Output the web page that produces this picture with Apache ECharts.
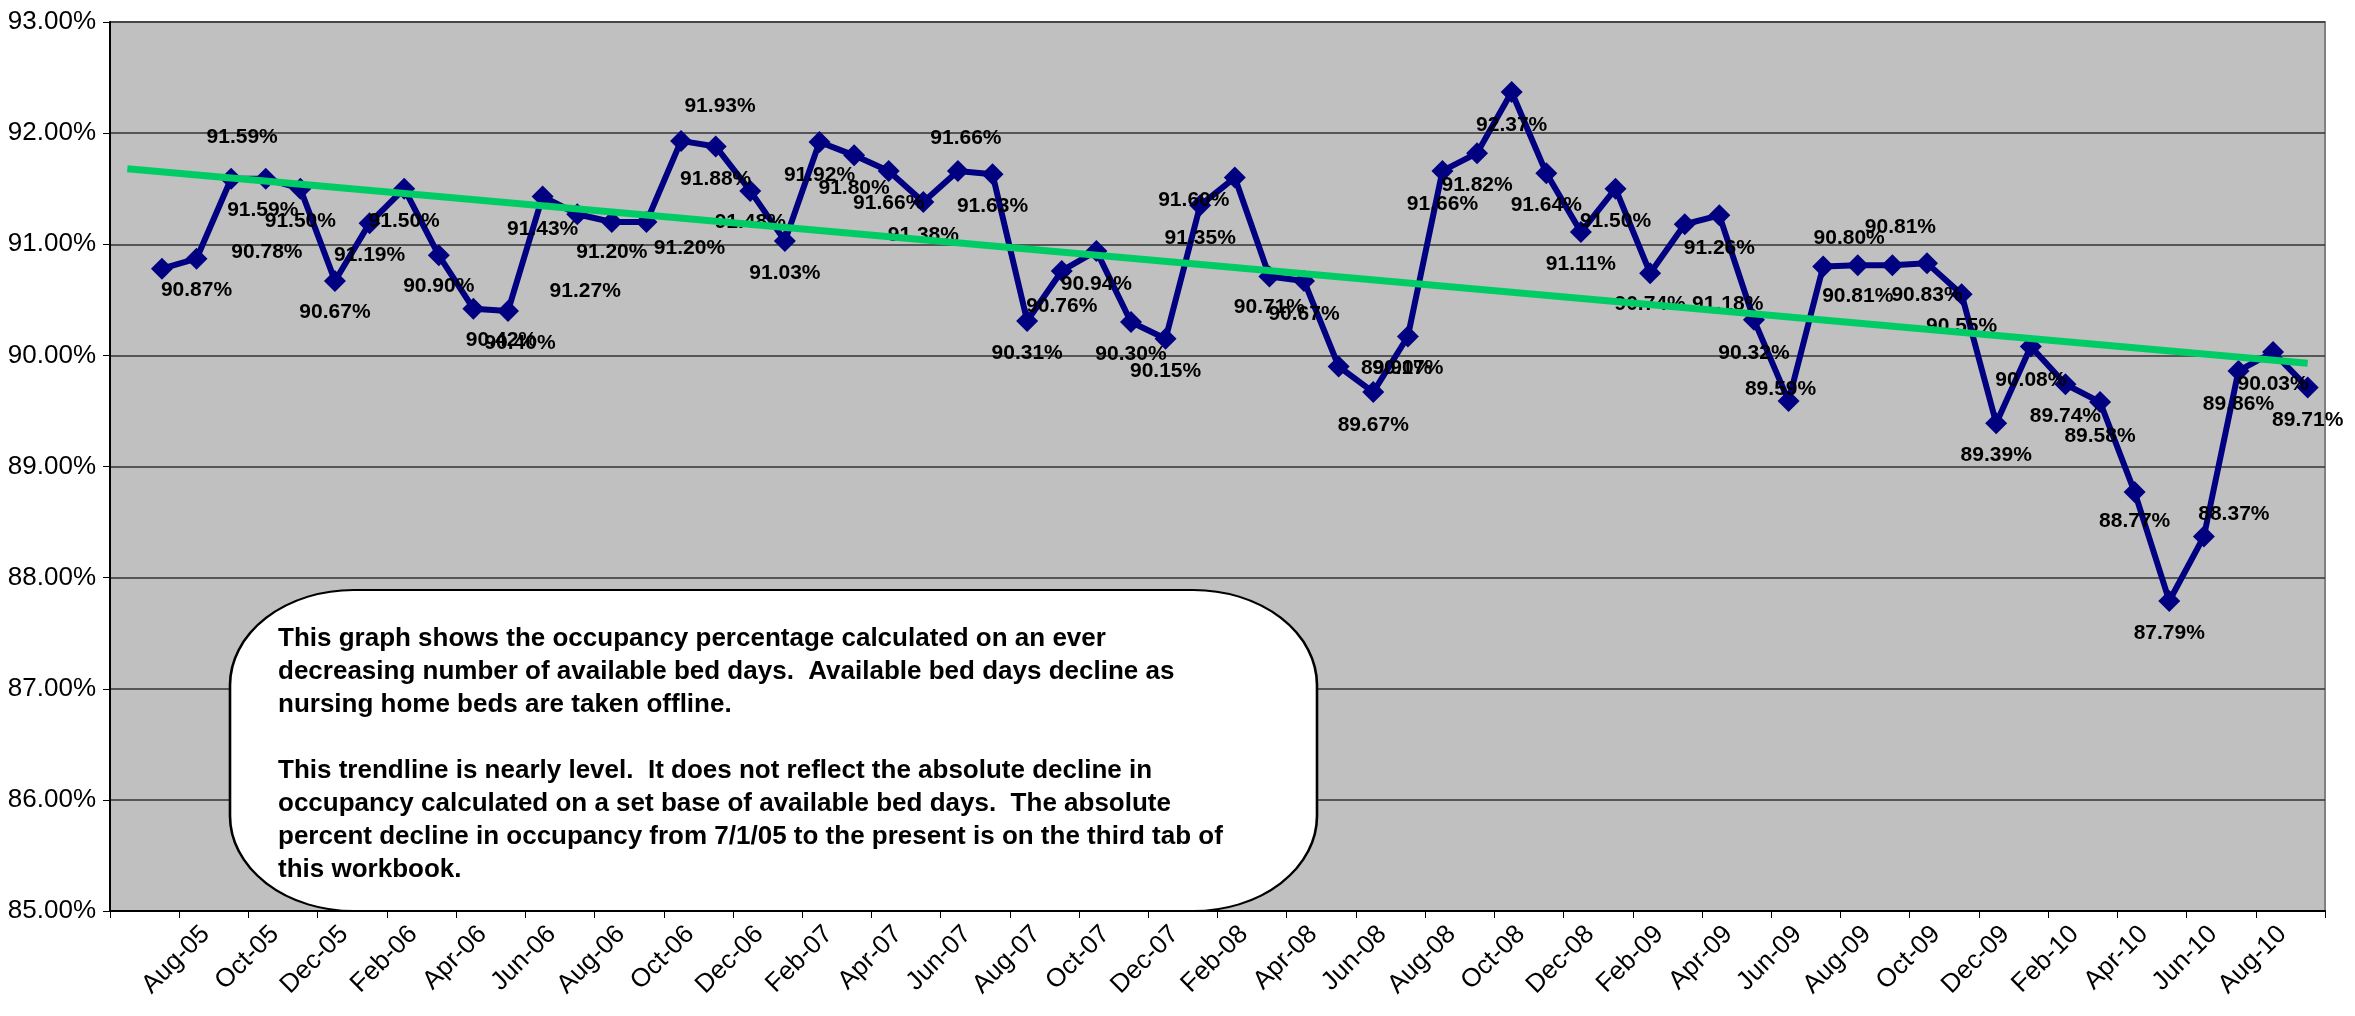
<!DOCTYPE html>
<html><head><meta charset="utf-8">
<script src="https://cdn.jsdelivr.net/npm/echarts@6/dist/echarts.min.js"></script>
<style>html,body{margin:0;padding:0;background:#fff}#c{width:2355px;height:1016px}</style>
</head><body><div id="c"></div>
<script>
// Categories: one blank slot, then Jul-05 .. Sep-10
const months = ['',
  'Jul-05','Aug-05','Sep-05','Oct-05','Nov-05','Dec-05',
  'Jan-06','Feb-06','Mar-06','Apr-06','May-06','Jun-06','Jul-06','Aug-06','Sep-06','Oct-06','Nov-06','Dec-06',
  'Jan-07','Feb-07','Mar-07','Apr-07','May-07','Jun-07','Jul-07','Aug-07','Sep-07','Oct-07','Nov-07','Dec-07',
  'Jan-08','Feb-08','Mar-08','Apr-08','May-08','Jun-08','Jul-08','Aug-08','Sep-08','Oct-08','Nov-08','Dec-08',
  'Jan-09','Feb-09','Mar-09','Apr-09','May-09','Jun-09','Jul-09','Aug-09','Sep-09','Oct-09','Nov-09','Dec-09',
  'Jan-10','Feb-10','Mar-10','Apr-10','May-10','Jun-10','Jul-10','Aug-10','Sep-10'];

const occupancy = [null,
  90.78, 90.87, 91.59, 91.59, 91.50, 90.67,
  91.19, 91.50, 90.90, 90.42, 90.40, 91.43, 91.27, 91.20, 91.20, 91.93, 91.88, 91.48,
  91.03, 91.92, 91.80, 91.66, 91.38, 91.66, 91.63, 90.31, 90.76, 90.94, 90.30, 90.15,
  91.35, 91.60, 90.71, 90.67, 89.90, 89.67, 90.17, 91.66, 91.82, 92.37, 91.64, 91.11,
  91.50, 90.74, 91.18, 91.26, 90.32, 89.59, 90.80, 90.81, 90.81, 90.83, 90.55, 89.39,
  90.08, 89.74, 89.58, 88.77, 87.79, 88.37, 89.86, 90.03, 89.71];

// Linear trendline end values (first and last category)
const trendStart = 91.68;
const trendEnd = 89.93;

const yTicks = [85, 86, 87, 88, 89, 90, 91, 92, 93];

// Label nudges [dx, dy] (layout only)
const labelNudge = [null,
  [105,-16],[0,32],[11,-41],[-3,32],[0,33],[0,31],
  [0,32],[0,33],[0,31],[28,32],[12,32],[0,33],[8,77],[0,30],[43,26],[39,-35],[0,33],[0,31],
  [0,32],[0,33],[0,33],[0,32],[0,33],[8,-33],[0,32],[0,32],[0,35],[0,33],[0,32],[0,32],
  [0,33],[-41,23],[0,31],[0,33],[58,2],[0,33],[0,32],[0,33],[0,32],[0,33],[0,32],[0,32],
  [0,33],[0,31],[43,80],[0,33],[0,33],[-8,-12],[26,-28],[0,31],[8,-38],[0,32],[0,32],[0,32],
  [0,34],[0,32],[0,34],[0,29],[0,32],[30,-22],[0,33],[0,32],[0,33]];

const noteText = [
  'This graph shows the occupancy percentage calculated on an ever',
  'decreasing number of available bed days.  Available bed days decline as',
  'nursing home beds are taken offline.',
  '',
  'This trendline is nearly level.  It does not reflect the absolute decline in',
  'occupancy calculated on a set base of available bed days.  The absolute',
  'percent decline in occupancy from 7/1/05 to the present is on the third tab of',
  'this workbook.'
].join('\n');

const chart = echarts.init(document.getElementById('c'), null, {renderer: 'canvas'});
const FONT = 'Liberation Sans, Arial, sans-serif';

const lineData = occupancy.map((v, i) => v == null ? null : ({
  value: v,
  label: { offset: labelNudge[i] }
}));

// Callout box: rounded rect stretched horizontally for elliptical corners
const boxStretch = 1.3;

chart.setOption({
  backgroundColor: '#ffffff',
  animation: false,
  grid: {
    left: 110, right: 30, top: 22, bottom: 105,
    show: true, backgroundColor: '#C0C0C0', borderColor: '#808080', borderWidth: 2
  },
  xAxis: {
    type: 'category',
    data: months,
    boundaryGap: true,
    axisLine: { lineStyle: { color: '#000', width: 2 } },
    axisTick: { show: true, interval: 1, length: 7, lineStyle: { color: '#000' } },
    axisLabel: {
      interval: 1, rotate: 45, color: '#000', fontSize: 26, fontFamily: FONT, margin: 10,
      verticalAlign: 'top'
    },
    splitLine: { show: false }
  },
  yAxis: {
    type: 'value',
    min: yTicks[0], max: yTicks[yTicks.length - 1], interval: 1,
    axisLine: { show: true, lineStyle: { color: '#000', width: 2 } },
    axisTick: { show: true, length: 7, lineStyle: { color: '#000' } },
    axisLabel: {
      color: '#000', fontSize: 26, fontFamily: FONT, margin: 14,
      formatter: v => v.toFixed(2) + '%'
    },
    splitLine: { show: true, lineStyle: { color: '#333', width: 1.5 } }
  },
  series: [
    {
      name: 'Occupancy',
      type: 'line',
      data: lineData,
      connectNulls: false,
      symbol: 'diamond',
      symbolSize: 22,
      itemStyle: { color: '#000080' },
      lineStyle: { color: '#000080', width: 6 },
      z: 2,
      label: {
        show: true,
        position: 'inside',
        color: '#000',
        fontSize: 21,
        fontWeight: 'bold',
        fontFamily: FONT,
        formatter: p => p.value.toFixed(2) + '%'
      }
    },
    {
      name: 'Trend',
      type: 'line',
      data: [[0, trendStart], [months.length - 1, trendEnd]],
      symbol: 'none',
      lineStyle: { color: '#00CC66', width: 7 },
      z: 3,
      silent: true
    }
  ],
  graphic: [
    {
      type: 'rect',
      z: 100,
      x: 230, y: 590,
      scaleX: boxStretch,
      shape: { x: 0, y: 0, width: 1087 / boxStretch, height: 321, r: 95 },
      style: { fill: '#ffffff', stroke: '#000', lineWidth: 2, strokeNoScale: true }
    },
    {
      type: 'text',
      z: 101,
      x: 278, y: 622,
      style: {
        text: noteText,
        fill: '#000',
        font: 'bold 26px ' + FONT,
        lineHeight: 33
      }
    }
  ]
});
</script>
</body></html>
